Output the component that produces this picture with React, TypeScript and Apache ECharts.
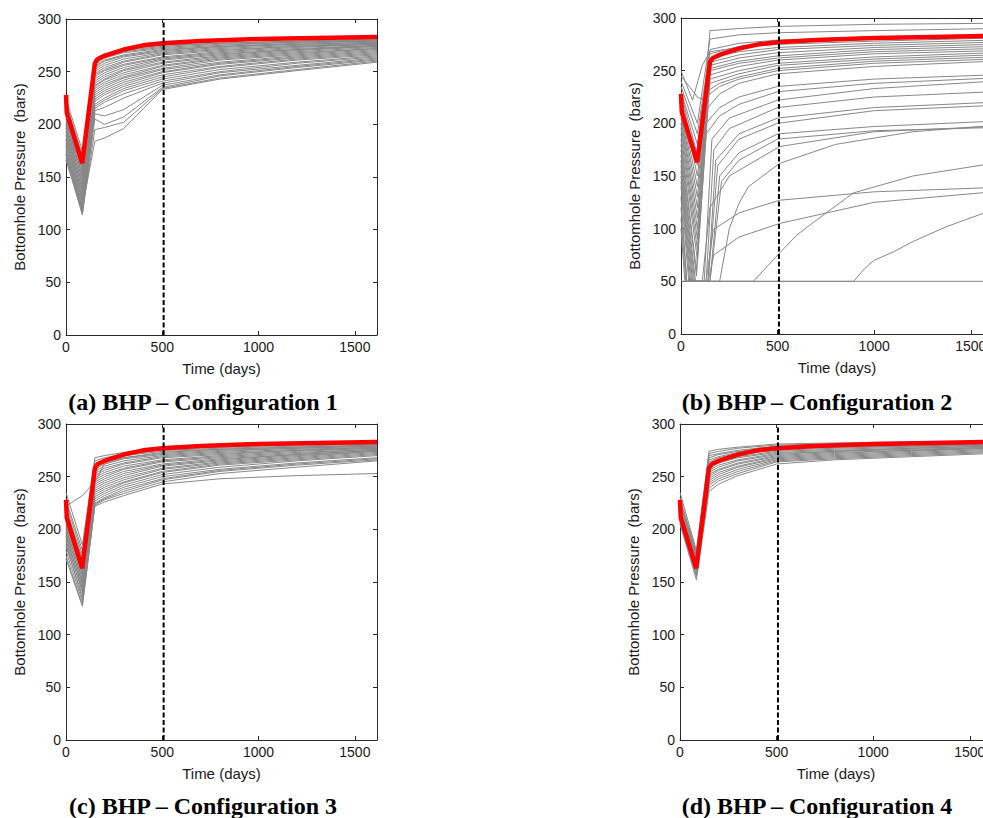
import React, { useEffect, useRef } from "react";
import * as echarts from "echarts";

// Shared time grid (days) for the simulated curves of configurations 1, 3 and 4
const stdDays = [0, 85, 150, 200, 300, 500, 800, 1200, 1615];

// Reference (true) bottomhole pressure, red curve
const refDays = [0, 4, 84, 150, 165, 200, 250, 300, 400, 500, 700, 1000, 1300, 1615];
const refBhp = [228, 211, 163, 258, 262, 265, 268, 271, 275, 277, 279, 281, 282, 283];

// Decision time (dashed line), days
const decisionDay = 507;

const captions = [
  "(a) BHP \u2013 Configuration 1",
  "(b) BHP \u2013 Configuration 2",
  "(c) BHP \u2013 Configuration 3",
  "(d) BHP \u2013 Configuration 4",
];

// Configuration 1 ensemble (values at stdDays)
const config1Curves: number[][] = [
  [224, 175, 262, 267, 271, 275, 277, 279, 280],
  [219, 171, 261, 266, 270, 274, 277, 279, 281],
  [221, 168, 259, 264, 269, 273, 276, 278, 280],
  [213, 165, 257, 263, 268, 272, 275, 278, 279],
  [217, 162, 255, 261, 266, 271, 274, 277, 279],
  [210, 160, 254, 260, 265, 270, 274, 276, 278],
  [206, 158, 252, 258, 264, 269, 273, 276, 278],
  [214, 155, 250, 256, 262, 268, 272, 275, 277],
  [203, 153, 248, 254, 260, 267, 271, 274, 277],
  [208, 150, 247, 252, 259, 266, 270, 274, 276],
  [199, 149, 245, 251, 257, 264, 269, 273, 276],
  [205, 146, 243, 249, 256, 263, 268, 272, 275],
  [196, 144, 241, 247, 254, 262, 267, 271, 275],
  [201, 141, 239, 245, 252, 261, 266, 271, 274],
  [192, 139, 237, 243, 251, 259, 265, 270, 274],
  [197, 137, 236, 242, 249, 258, 264, 269, 273],
  [188, 135, 234, 240, 247, 256, 263, 268, 272],
  [194, 132, 232, 238, 245, 255, 262, 267, 272],
  [185, 130, 230, 236, 244, 253, 261, 266, 271],
  [190, 128, 228, 234, 242, 252, 259, 265, 270],
  [182, 127, 226, 232, 240, 250, 258, 264, 269],
  [178, 124, 224, 230, 238, 249, 257, 263, 268],
  [186, 122, 222, 228, 236, 247, 255, 262, 267],
  [174, 120, 219, 225, 234, 245, 254, 261, 266],
  [180, 118, 217, 223, 232, 243, 252, 259, 265],
  [171, 117, 215, 221, 229, 241, 250, 258, 264],
  [176, 115, 213, 216, 225, 239, 249, 256, 263],
  [168, 114, 210, 208, 214, 237, 247, 255, 262],
  [172, 119, 205, 200, 207, 235, 246, 254, 261],
  [166, 116, 195, 197, 202, 234, 244, 252, 260],
  [170, 121, 184, 187, 196, 233, 243, 251, 259],
];

// Configuration 2 ensemble ([day, bar] pairs, 50 bar lower limit)
const config2Curves: number[][][] = [
  [[0, 245], [85, 225], [120, 222], [150, 288], [300, 290], [500, 292], [1000, 294], [1615, 295]],
  [[0, 240], [85, 200], [150, 280], [300, 284], [500, 286], [1000, 288], [1615, 290]],
  [[0, 235], [85, 190], [150, 270], [300, 276], [500, 279], [1000, 282], [1615, 284]],
  [[0, 230], [85, 180], [150, 266], [300, 273], [500, 277], [1000, 280], [1615, 282]],
  [[0, 228], [85, 170], [150, 262], [300, 268], [500, 272], [1000, 276], [1615, 279]],
  [[0, 225], [85, 160], [150, 258], [300, 265], [500, 270], [1000, 274], [1615, 277]],
  [[0, 222], [85, 150], [150, 255], [300, 262], [500, 267], [1000, 272], [1615, 275]],
  [[0, 218], [85, 140], [150, 252], [300, 259], [500, 264], [1000, 270], [1615, 273]],
  [[0, 215], [85, 130], [150, 250], [300, 257], [500, 262], [1000, 268], [1615, 271]],
  [[0, 212], [85, 120], [150, 246], [300, 254], [500, 260], [1000, 266], [1615, 269]],
  [[0, 208], [85, 110], [150, 242], [300, 250], [500, 257], [1000, 263], [1615, 267]],
  [[0, 205], [85, 100], [150, 238], [300, 247], [500, 255], [1000, 261], [1615, 265]],
  [[0, 200], [85, 90], [130, 230], [200, 238], [300, 244], [500, 252], [1000, 259], [1615, 263]],
  [[0, 196], [85, 80], [130, 225], [200, 235], [300, 242], [500, 250], [1000, 257], [1615, 261]],
  [[0, 250], [60, 222], [110, 255], [150, 268], [300, 272], [500, 275], [1000, 278], [1615, 281]],
  [[0, 190], [85, 70], [140, 215], [200, 228], [300, 238], [500, 247], [1000, 254], [1615, 259]],
  [[0, 185], [80, 60], [130, 200], [200, 215], [300, 225], [500, 235], [1000, 242], [1615, 246]],
  [[0, 180], [80, 55], [130, 190], [200, 207], [300, 218], [500, 230], [1000, 238], [1615, 243]],
  [[0, 175], [75, 50], [120, 50], [160, 185], [250, 205], [500, 222], [1000, 233], [1615, 240]],
  [[0, 170], [70, 50], [130, 50], [170, 175], [250, 195], [500, 215], [1000, 225], [1615, 230]],
  [[0, 165], [65, 50], [140, 50], [180, 165], [300, 190], [500, 205], [1000, 215], [1615, 220]],
  [[0, 160], [60, 50], [140, 50], [190, 160], [300, 185], [500, 200], [1000, 212], [1615, 217]],
  [[0, 155], [55, 50], [150, 50], [200, 150], [300, 172], [500, 190], [1000, 197], [1615, 202]],
  [[0, 150], [50, 50], [150, 50], [210, 145], [300, 165], [500, 185], [1000, 193], [1615, 196]],
  [[0, 145], [45, 50], [110, 50], [150, 120], [250, 150], [511, 178], [1000, 192], [1615, 197]],
  [[0, 140], [40, 50], [130, 50], [167, 99], [300, 115], [511, 127], [1000, 135], [1615, 139]],
  [[0, 130], [30, 50], [140, 50], [170, 75], [300, 92], [511, 105], [1000, 125], [1615, 135]],
  [[0, 120], [30, 50], [375, 50], [450, 65], [511, 77], [600, 94], [700, 108], [893, 134], [1200, 150], [1615, 162]],
  [[0, 110], [25, 50], [200, 50], [250, 100], [300, 124], [350, 140], [511, 162], [800, 180], [1200, 192], [1615, 198]],
  [[0, 100], [20, 50], [893, 50], [950, 62], [1000, 70], [1100, 78], [1203, 88], [1376, 102], [1615, 118]],
  [[0, 50], [1615, 50]],
];

// Configuration 3 ensemble (values at stdDays)
const config3Curves: number[][] = [
  [235, 185, 268, 270, 273, 276, 278, 280, 281],
  [228, 180, 265, 268, 271, 275, 277, 279, 281],
  [222, 232, 245, 262, 268, 273, 276, 278, 280],
  [225, 176, 262, 266, 270, 274, 276, 278, 280],
  [218, 173, 259, 264, 268, 272, 275, 277, 279],
  [221, 170, 257, 262, 267, 271, 274, 277, 279],
  [212, 168, 255, 260, 265, 270, 273, 276, 278],
  [215, 165, 253, 258, 263, 269, 272, 275, 278],
  [208, 163, 251, 256, 262, 268, 271, 275, 277],
  [210, 160, 249, 254, 260, 266, 270, 274, 277],
  [204, 158, 247, 252, 258, 265, 269, 273, 276],
  [206, 156, 245, 250, 257, 264, 268, 272, 276],
  [200, 154, 243, 248, 255, 262, 267, 271, 275],
  [202, 152, 241, 246, 253, 261, 266, 271, 275],
  [196, 150, 239, 244, 251, 260, 265, 270, 274],
  [198, 148, 237, 242, 249, 258, 264, 269, 274],
  [192, 146, 235, 240, 247, 257, 263, 268, 273],
  [194, 144, 233, 238, 245, 255, 262, 267, 272],
  [188, 142, 231, 236, 244, 254, 261, 266, 271],
  [190, 140, 229, 234, 242, 252, 259, 265, 270],
  [184, 137, 227, 232, 240, 250, 257, 263, 268],
  [186, 134, 225, 230, 238, 248, 256, 262, 267],
  [180, 131, 224, 229, 236, 247, 255, 261, 266],
  [175, 128, 223, 228, 234, 245, 253, 259, 265],
  [172, 127, 222, 226, 232, 243, 248, 251, 253],
];

// Configuration 4 ensemble (values at stdDays)
const config4Curves: number[][] = [
  [235, 180, 274, 276, 278, 281, 282, 283, 283],
  [230, 178, 272, 274, 277, 280, 281, 282, 283],
  [228, 176, 270, 272, 275, 279, 280, 281, 282],
  [226, 175, 268, 271, 274, 278, 279, 281, 282],
  [224, 174, 266, 269, 273, 277, 278, 280, 281],
  [222, 172, 264, 268, 272, 276, 278, 279, 281],
  [220, 171, 262, 266, 271, 275, 277, 279, 280],
  [219, 170, 260, 264, 269, 274, 276, 278, 280],
  [217, 168, 258, 263, 268, 273, 275, 277, 279],
  [216, 167, 256, 261, 266, 272, 274, 277, 279],
  [214, 166, 254, 259, 265, 271, 274, 276, 278],
  [213, 165, 252, 257, 263, 270, 273, 275, 278],
  [211, 163, 250, 256, 262, 269, 272, 275, 277],
  [210, 162, 248, 254, 260, 268, 271, 274, 277],
  [209, 161, 246, 252, 259, 267, 270, 273, 276],
  [208, 159, 244, 250, 257, 266, 269, 272, 275],
  [207, 157, 242, 248, 255, 265, 268, 271, 274],
  [206, 155, 239, 246, 253, 264, 267, 270, 273],
  [205, 152, 236, 243, 251, 262, 266, 269, 272],
];

const grids = [
  { left: 66, top: 19, width: 311, height: 316 },
  { left: 681, top: 18, width: 312, height: 316 },
  { left: 66, top: 424, width: 311, height: 316 },
  { left: 680, top: 424, width: 312, height: 316 },
];
const captionPos = [
  [203, 402],
  [817, 402],
  [203, 806],
  [817, 806],
];

function withDays(values: number[]): number[][] {
  return values.map((v, i) => [stdDays[i], v]);
}

export default function App() {
  const ref = useRef<HTMLDivElement>(null);
  useEffect(() => {
    if (!ref.current) return;
    const chart = echarts.init(ref.current, undefined, { renderer: "svg" });
    const ensembles: number[][][][] = [
      config1Curves.map(withDays),
      config2Curves,
      config3Curves.map(withDays),
      config4Curves.map(withDays),
    ];
    const axisLine = { show: true, onZero: false, lineStyle: { color: "#2a2a2a", width: 1 } };
    const tick = { inside: true, length: 4, lineStyle: { color: "#2a2a2a" } };
    const xAxes: any[] = [];
    const yAxes: any[] = [];
    const series: any[] = [];
    const font = "Liberation Sans, Arial, sans-serif";
    const labelStyle = { fontFamily: font, fontSize: 14, color: "#1a1a1a" };
    grids.forEach((_, gi) => {
      xAxes.push({
        type: "value", gridIndex: gi, position: "bottom", min: 0, max: 1615, interval: 500,
        axisLine, axisTick: tick,
        axisLabel: { ...labelStyle, margin: 5, formatter: (v: number) => String(v) },
        splitLine: { show: false },
        name: "Time (days)", nameLocation: "middle", nameGap: 26,
        nameTextStyle: { fontFamily: font, fontSize: 15, color: "#1a1a1a" },
      });
      xAxes.push({
        type: "value", gridIndex: gi, position: "top", min: 0, max: 1615, interval: 500,
        axisLine, axisTick: tick,
        axisLabel: { show: false }, splitLine: { show: false },
      });
      yAxes.push({
        type: "value", gridIndex: gi, position: "left", min: 0, max: 300, interval: 50,
        axisLine, axisTick: tick,
        axisLabel: { ...labelStyle, margin: 5, formatter: (v: number) => String(v) },
        splitLine: { show: false },
        name: "Bottomhole Pressure  (bars)", nameLocation: "middle", nameGap: 39,
        nameTextStyle: { fontFamily: font, fontSize: 15, color: "#1a1a1a" },
      });
      yAxes.push({
        type: "value", gridIndex: gi, position: "right", min: 0, max: 300, interval: 50,
        axisLine, axisTick: tick,
        axisLabel: { show: false }, splitLine: { show: false },
      });
      ensembles[gi].forEach((curve) => {
        series.push({
          type: "line", xAxisIndex: gi * 2, yAxisIndex: gi * 2, data: curve,
          showSymbol: false, silent: true, clip: true,
          lineStyle: { color: "#888888", width: 1 }, z: 2,
        });
      });
      series.push({
        type: "line", xAxisIndex: gi * 2, yAxisIndex: gi * 2,
        data: refDays.map((d, i) => [d, refBhp[i]]),
        showSymbol: false, silent: true, clip: true,
        lineStyle: { color: "#ff0000", width: 4.5 }, z: 3,
      });
      series.push({
        type: "line", xAxisIndex: gi * 2, yAxisIndex: gi * 2,
        data: [[decisionDay, 0], [decisionDay, 300]],
        showSymbol: false, silent: true,
        lineStyle: { color: "#000000", width: 2, type: [5, 2.5] }, z: 4,
      });
    });
    chart.setOption({
      animation: false,
      backgroundColor: "#ffffff",
      grid: grids.map((g) => ({ ...g, containLabel: false })),
      xAxis: xAxes,
      yAxis: yAxes,
      series,
      graphic: captions.map((c, i) => ({
        type: "text",
        x: captionPos[i][0],
        y: captionPos[i][1],
        style: {
          text: c,
          fontFamily: "Liberation Serif, Times New Roman, serif",
          fontWeight: "bold",
          fontSize: 24,
          fill: "#000000",
          align: "center",
          verticalAlign: "middle",
          textAlign: "center",
          textVerticalAlign: "middle",
        },
      })),
    });
    return () => chart.dispose();
  }, []);
  return (
    <div style={{ position: "absolute", left: 0, top: 0, width: 983, height: 818, overflow: "hidden", background: "#fff" }}>
      <div ref={ref} style={{ width: 1000, height: 818 }} />
    </div>
  );
}
